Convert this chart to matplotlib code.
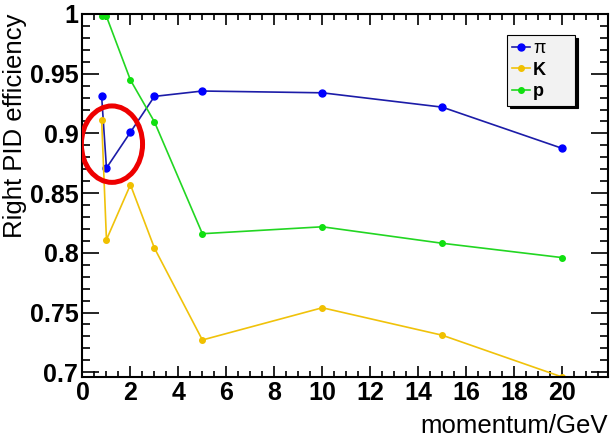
import matplotlib
matplotlib.use('Agg')
import matplotlib.pyplot as plt
from matplotlib.patches import Ellipse
from matplotlib.ticker import MultipleLocator

plt.rcParams['font.family'] = ['Liberation Sans', 'DejaVu Sans']

# momentum points (GeV) and efficiencies
momentum = [0.8, 1, 2, 3, 5, 10, 15, 20]
eff_pi = [0.931, 0.871, 0.901, 0.931, 0.9355, 0.934, 0.922, 0.8875]
eff_k = [0.911, 0.811, 0.857, 0.804, 0.727, 0.754, 0.731, 0.696]
eff_p = [0.998, 0.998, 0.9447, 0.9097, 0.816, 0.8218, 0.808, 0.796]

fig = plt.figure(figsize=(6.1, 4.36), dpi=100)
ax = fig.add_axes([0.1352, 0.1353, 0.861, 0.8326])

ax.plot(momentum, eff_pi, color='#1c1ca8', lw=1.2, marker='o', ms=5,
        mfc='#0000ff', mec='#0000ff', label='π')
ax.plot(momentum, eff_k, color='#f0c20a', lw=1.2, marker='o', ms=4,
        mfc='#f0c000', mec='#f0c000', label='K')
ax.plot(momentum, eff_p, color='#22d622', lw=1.2, marker='o', ms=4,
        mfc='#10e010', mec='#10e010', label='p')

# red circle highlighting the pion dip
ax.add_patch(Ellipse((1.23, 0.891), 2.55, 0.064, fill=False,
                     edgecolor='#ee0000', lw=3.6, zorder=5))

ax.set_xlim(0, 21.9)
ax.set_ylim(0.696, 0.999)
ax.xaxis.set_major_locator(MultipleLocator(2))
ax.xaxis.set_minor_locator(MultipleLocator(0.5))
ax.yaxis.set_major_locator(MultipleLocator(0.05))
ax.yaxis.set_minor_locator(MultipleLocator(0.01))
ax.set_yticks([0.7, 0.75, 0.8, 0.85, 0.9, 0.95, 1.0])
ax.set_yticklabels(['0.7', '0.75', '0.8', '0.85', '0.9', '0.95', '1'])
ax.tick_params(which='both', direction='in', top=True, right=True,
               labelsize=18, pad=3)
ax.tick_params(axis='x', which='major', length=8, width=1.2)
ax.tick_params(axis='x', which='minor', length=4, width=1.2)
ax.tick_params(axis='y', which='major', length=12, width=1.2)
ax.tick_params(axis='y', which='minor', length=6, width=1.2)
for lab in ax.get_xticklabels() + ax.get_yticklabels():
    lab.set_fontweight('bold')
for s in ax.spines.values():
    s.set_linewidth(1.5)

ax.set_xlabel('momentum/GeV', fontsize=18.5, loc='right', labelpad=6)
ax.set_ylabel('Right PID efficiency', fontsize=18.5, loc='top', labelpad=2)

leg = ax.legend(loc='upper left', bbox_to_anchor=(0.808, 0.5, 0.130, 0.442),
                mode='expand', fontsize=13, handlelength=1.0,
                handletextpad=0.15, labelspacing=0.24, borderpad=0.3,
                borderaxespad=0, fancybox=False, framealpha=1,
                facecolor='#f2f2f2', edgecolor='black',
                shadow={'color': 'black', 'alpha': 1})
for t in leg.get_texts()[1:]:
    t.set_fontweight('bold')
leg.get_frame().set_linewidth(0.8)

fig.savefig('out.png', dpi=100)
